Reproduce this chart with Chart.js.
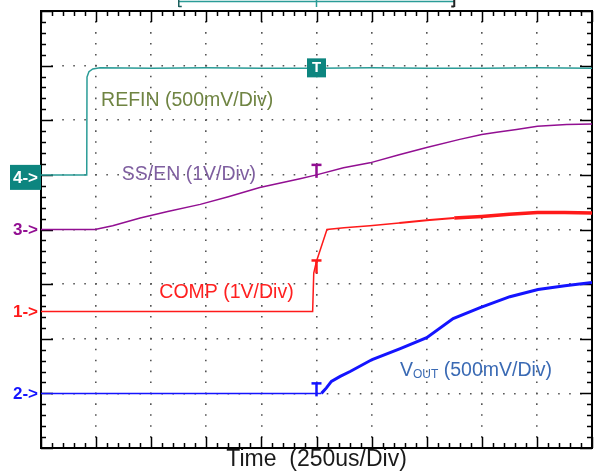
<!DOCTYPE html>
<html>
<head>
<meta charset="utf-8">
<script src="https://cdn.jsdelivr.net/npm/chart.js@4.4.1/dist/chart.umd.min.js"></script>
<style>
  html, body { margin: 0; padding: 0; background: #fff; }
  #wrap { width: 598px; height: 474px; position: relative; }
</style>
</head>
<body>
<div id="wrap"><canvas id="scope"></canvas></div>
<script>
// screen is 10 x 8 divisions, values below are in divisions
const xDivs = [0, 1, 2, 3, 4, 5, 6, 7, 8, 9, 10];
const yDivs = [0, 1, 2, 3, 4, 5, 6, 7, 8];

// ch4 REFIN (500mV/Div)
const refinT = [0, 0.83, 0.835, 0.87, 0.94, 1.07, 2, 3, 4, 5, 6, 7, 8, 9, 10];
const refinV = [5.0, 5.0, 6.79, 6.89, 6.94, 6.96, 6.95, 6.96, 6.95, 6.95, 6.96, 6.95, 6.95, 6.96, 6.95];

// ch3 SS/EN (1V/Div)
const ssT = [0, 0.98, 1.3, 1.8, 2.3, 2.89, 3.4, 3.97, 4.7, 5.0, 5.49, 5.97, 6.5, 7.0, 7.6, 8.0, 8.27, 8.63, 9.01, 9.54, 10];
const ssV = [4.0, 4.0, 4.07, 4.21, 4.33, 4.46, 4.6, 4.77, 4.93, 5.0, 5.13, 5.22, 5.37, 5.5, 5.65, 5.74, 5.78, 5.83, 5.89, 5.92, 5.93];

// ch1 COMP (1V/Div)
const compT = [0, 4.93, 4.95, 5.0, 5.19, 5.5, 5.97, 6.5, 7.0, 7.5, 8.0, 8.5, 9.01, 9.5, 10];
const compV = [2.5, 2.5, 3.2, 3.42, 4.0, 4.03, 4.07, 4.12, 4.17, 4.21, 4.24, 4.28, 4.31, 4.31, 4.30];

// ch2 VOUT (500mV/Div)
const voutT = [0, 5.09, 5.18, 5.27, 5.43, 5.61, 6.01, 6.52, 7.0, 7.48, 7.97, 8.51, 9.02, 9.51, 10];
const voutV = [1.0, 1.0, 1.1, 1.22, 1.31, 1.4, 1.62, 1.82, 2.02, 2.37, 2.57, 2.77, 2.9, 2.97, 3.03];

// channel ground markers and trigger position
const chNames = ["4", "3", "1", "2"];
const chLevels = [5.0, 4.0, 2.5, 1.0];
const trigTime = 5.0;
const trigLevels = [5.0, 3.25, 1.0]; // SS/EN, COMP, VOUT
const refinTrigLevel = 6.95;
const memWindow = [2.5, 7.5];

const COLORS = {
  teal: "#2a9c97",
  tealBox: "#0d857f",
  purple: "#920f92",
  red: "#ff1a1a",
  blue: "#1414ff",
  grid: "#555",
  ink: "#000",
  refinLbl: "#6f8442",
  ssLbl: "#7f5fa0",
  compLbl: "#ff2020",
  voutLbl: "#3a6ab4",
  font: "Arial, 'Liberation Sans', sans-serif",
};

const pts = (t, v) => t.map((x, i) => ({ x, y: v[i] }));

function line(ctx, x1, y1, x2, y2) {
  ctx.beginPath();
  ctx.moveTo(x1, y1);
  ctx.lineTo(x2, y2);
  ctx.stroke();
}

const scopeDecor = {
  id: "scopeDecor",
  beforeDatasetsDraw(chart) {
    const { ctx, chartArea: a, scales: { x, y } } = chart;
    ctx.save();
    ctx.strokeStyle = COLORS.ink;
    ctx.lineWidth = 1.5;
    for (let i = 0; i <= 50; i++) {
      const px = Math.round(x.getPixelForValue(i / 5)) + 0.5;
      const len = i % 5 === 0 ? 11 : 5;
      line(ctx, px, a.top, px, a.top + len);
      line(ctx, px, a.bottom, px, a.bottom - len);
    }
    for (let i = 0; i <= 40; i++) {
      const py = Math.round(y.getPixelForValue(i / 5)) + 0.5;
      const len = i % 5 === 0 ? 12 : 5;
      line(ctx, a.left, py, a.left + len, py);
      line(ctx, a.right, py, a.right - len, py);
    }
    ctx.lineWidth = 2;
    ctx.strokeRect(a.left, a.top, a.right - a.left, a.bottom - a.top);
    ctx.restore();
  },
  afterDatasetsDraw(chart) {
    const { ctx, chartArea: a, scales: { x, y } } = chart;
    ctx.save();

    // memory window bar above the screen
    const m1 = x.getPixelForValue(memWindow[0]);
    const m2 = x.getPixelForValue(memWindow[1]);
    const mt = x.getPixelForValue(trigTime);
    ctx.lineWidth = 1.5;
    ctx.strokeStyle = COLORS.teal;
    line(ctx, m1, 1.5, m2, 1.5);
    line(ctx, mt, 0, mt, 7);
    ctx.strokeStyle = "#1c5f5c";
    line(ctx, m1, 0, m1, 7);
    line(ctx, m1, 6.5, m1 + 3, 6.5);
    ctx.strokeStyle = "#222";
    ctx.lineWidth = 2;
    line(ctx, m2, 0, m2, 7);
    line(ctx, m2, 6.5, m2 - 3, 6.5);

    // trigger "T" marks on traces
    const tx = x.getPixelForValue(trigTime);
    [COLORS.purple, COLORS.red, COLORS.blue].forEach((c, i) => {
      const ty = y.getPixelForValue(trigLevels[i]);
      ctx.strokeStyle = c;
      ctx.lineWidth = 2.5;
      line(ctx, tx - 5, ty - 10, tx + 5, ty - 10);
      line(ctx, tx, ty - 10, tx, ty + 3);
    });

    // REFIN trigger box
    const by = y.getPixelForValue(refinTrigLevel);
    ctx.fillStyle = COLORS.tealBox;
    ctx.fillRect(tx - 9.5, by - 10, 19, 19);
    ctx.fillStyle = "#fff";
    ctx.font = "bold 15px " + COLORS.font;
    ctx.textAlign = "center";
    ctx.textBaseline = "middle";
    ctx.fillText("T", tx, by);

    // channel ground markers
    const chColors = ["#fff", COLORS.purple, COLORS.red, COLORS.blue];
    ctx.font = "bold 17px " + COLORS.font;
    ctx.textAlign = "right";
    chNames.forEach((n, i) => {
      const py = y.getPixelForValue(chLevels[i]);
      let off = 1;
      if (i === 0) {
        ctx.fillStyle = COLORS.tealBox;
        ctx.fillRect(10, py - 10, a.left - 10, 25);
        off = 3;
      }
      ctx.fillStyle = chColors[i];
      ctx.fillText(n + "->", 38, py + off);
    });

    // trace labels
    ctx.textAlign = "left";
    ctx.textBaseline = "alphabetic";
    ctx.font = "19.5px " + COLORS.font;
    ctx.fillStyle = COLORS.refinLbl;
    ctx.fillText("REFIN (500mV/Div)", x.getPixelForValue(1.09), y.getPixelForValue(6.27));
    ctx.fillStyle = COLORS.ssLbl;
    ctx.fillText("SS/EN (1V/Div)", x.getPixelForValue(1.465), y.getPixelForValue(4.9));
    ctx.fillStyle = COLORS.compLbl;
    ctx.fillText("COMP (1V/Div)", x.getPixelForValue(2.147), y.getPixelForValue(2.75));

    let vx = x.getPixelForValue(6.515);
    const vy = y.getPixelForValue(1.31);
    ctx.fillStyle = COLORS.voutLbl;
    ctx.fillText("V", vx, vy);
    vx += ctx.measureText("V").width;
    ctx.font = "12px " + COLORS.font;
    ctx.fillText("OUT", vx, vy + 2);
    vx += ctx.measureText("OUT").width;
    ctx.font = "19.5px " + COLORS.font;
    ctx.fillText(" (500mV/Div)", vx, vy);

    ctx.restore();
  },
};

const ctx = document.getElementById("scope").getContext("2d");
new Chart(ctx, {
  type: "line",
  data: {
    datasets: [
      {
        label: "REFIN",
        data: pts(refinT, refinV),
        borderColor: COLORS.teal,
        borderWidth: 1.5,
      },
      {
        label: "SS/EN",
        data: pts(ssT, ssV),
        borderColor: COLORS.purple,
        borderWidth: 1.5,
      },
      {
        label: "COMP",
        data: pts(compT, compV),
        borderColor: COLORS.red,
        borderWidth: 1.5,
        segment: { borderWidth: c => (c.p0.parsed.x >= 7.5 ? 3.5 : c.p0.parsed.x >= 6 ? 2 : 1.5) },
      },
      {
        label: "VOUT",
        data: pts(voutT, voutV),
        borderColor: COLORS.blue,
        borderWidth: 2,
        segment: { borderWidth: c => (c.p0.parsed.x >= 5.09 ? 3 : 1.5) },
      },
    ],
  },
  options: {
    responsive: true,
    maintainAspectRatio: false,
    animation: false,
    layout: { padding: { left: 41, top: 11, right: 6, bottom: 3 } },
    elements: { point: { radius: 0 }, line: { tension: 0 } },
    plugins: { legend: { display: false }, tooltip: { enabled: false } },
    scales: {
      x: {
        type: "linear",
        min: xDivs[0],
        max: xDivs[xDivs.length - 1],
        ticks: { display: false, stepSize: 1 },
        grid: { color: COLORS.grid, lineWidth: 1.6, drawTicks: false, tickLength: 0 },
        border: { display: false, dash: [1.6, 9.32], dashOffset: 0.8 },
        title: {
          display: true,
          text: "Time  (250us/Div)",
          color: "#1a1a1a",
          font: { family: COLORS.font, size: 23, lineHeight: 1 },
          padding: { top: 0, bottom: 0 },
        },
      },
      y: {
        type: "linear",
        min: yDivs[0],
        max: yDivs[yDivs.length - 1],
        ticks: { display: false, stepSize: 1 },
        grid: { color: COLORS.grid, lineWidth: 1.6, drawTicks: false, tickLength: 0 },
        border: { display: false, dash: [1.6, 9.42], dashOffset: 0.8 },
      },
    },
  },
  plugins: [scopeDecor],
});
</script>
</body>
</html>
